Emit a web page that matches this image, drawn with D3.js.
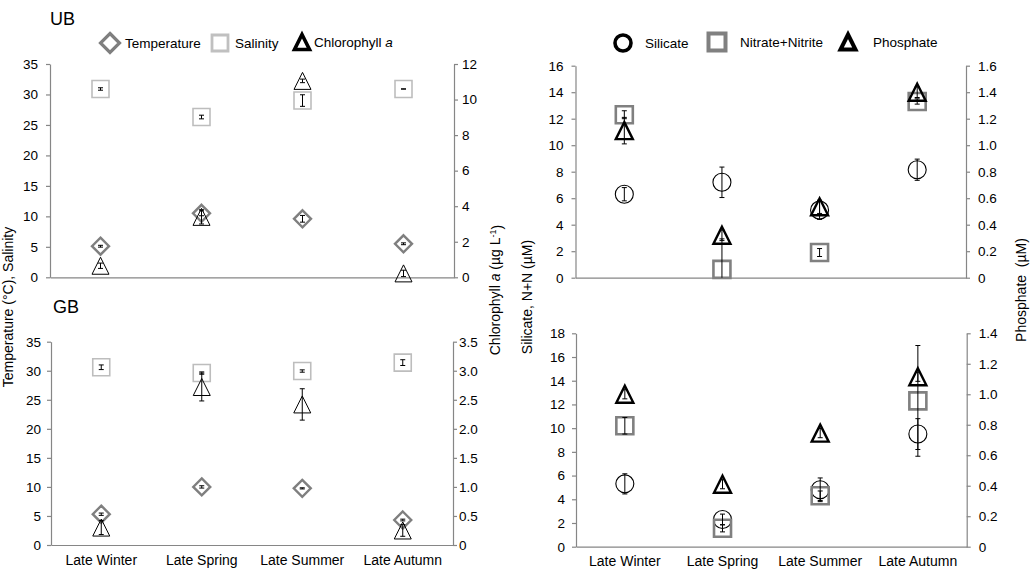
<!DOCTYPE html>
<html>
<head>
<meta charset="utf-8">
<script src="https://d3js.org/d3.v7.min.js"></script>
<style>
  html, body { margin: 0; padding: 0; background: #fff; }
  svg text { font-family: "Liberation Sans", Arial, sans-serif; fill: #000; }
  .axis path, .axis line { stroke: #868686; stroke-width: 1.2; }
  .axis text { font-size: 13.5px; }
</style>
</head>
<body>
<div id="chart"></div>
<script>
// categories (sampling seasons)
const categories = ["Late Winter", "Late Spring", "Late Summer", "Late Autumn"];

// UB: temperature, salinity (left axis) and chlorophyll a (right axis)
const ubTemp = [5.1, 10.5, 9.6, 5.5];
const ubTempErr = [0.15, 0.4, 0.55, 0.15];
const ubSal = [30.9, 26.3, 29.0, 30.9];
const ubSalErr = [0.2, 0.3, 0.95, 0.02];
const ubChl = [0.65, 3.4, 11.05, 0.22];
const ubChlErr = [0.15, 0.4, 0.1, 0.18];

// GB
const gbTemp = [5.3, 10.0, 9.75, 4.3];
const gbTempErr = [0.2, 0.2, 0.1, 0.15];
const gbSal = [30.6, 29.6, 29.95, 31.4];
const gbSalErr = [0.4, 0.2, 0.2, 0.5];
const gbChl = [0.3, 2.72, 2.42, 0.25];
const gbChlErr = [0.12, 0.24, 0.27, 0.1];

// UB nutrients: silicate, nitrate+nitrite (left), phosphate (right)
const ubSil = [6.3, 7.2, 5.1, 8.15];
const ubSilErr = [0.5, 1.15, 0.7, 0.8];
const ubNit = [12.3, 0.63, 1.9, 13.3];
const ubNitErr = [0.3, 2.3, 0.3, 0.2];
const ubPhos = [1.11, 0.32, 0.535, 1.4];
const ubPhosErr = [0.1, 0.04, 0.05, 0.04];

// GB nutrients
const gbSil = [5.3, 2.3, 4.8, 9.5];
const gbSilErr = [0.85, 0.45, 1.0, 1.3];
const gbNit = [10.2, 1.55, 4.3, 12.3];
const gbNitErr = [0.7, 0.3, 0.4, 4.67];
const gbPhos = [1.0, 0.41, 0.745, 1.115];
const gbPhosErr = [0.03, 0.03, 0.03, 0.03];

// tick labels
const physTicks = [0, 5, 10, 15, 20, 25, 30, 35];
const ubChlTicks = [0, 2, 4, 6, 8, 10, 12];
const gbChlTicks = [0, 0.5, 1.0, 1.5, 2.0, 2.5, 3.0, 3.5];
const ubNutTicks = [0, 2, 4, 6, 8, 10, 12, 14, 16];
const ubPhosTicks = [0, 0.2, 0.4, 0.6, 0.8, 1.0, 1.2, 1.4, 1.6];
const gbNutTicks = [0, 2, 4, 6, 8, 10, 12, 14, 16, 18];
const gbPhosTicks = [0, 0.2, 0.4, 0.6, 0.8, 1.0, 1.2, 1.4];

const W = 1033, H = 571;
const svg = d3.select("#chart").append("svg")
    .attr("width", W).attr("height", H);

const oneDec = d => d === 0 ? "0" : d.toFixed(1);

// marker styles
const styles = {
    temp: { shape: "diamond", stroke: "#7f7f7f", sw: 2.4, size: 17 },
    sal: { shape: "square", stroke: "#bdbdbd", sw: 1.6, size: 17 },
    chl: { shape: "triangle", stroke: "#000", sw: 1, size: 17 },
    sil: { shape: "circle", stroke: "#000", sw: 1.1, size: 18 },
    nit: { shape: "square", stroke: "#808080", sw: 2.6, size: 17 },
    phos: { shape: "triangle", stroke: "#000", sw: 2.4, size: 17 }
};

function drawMarker(g, shape, cx, cy, s, stroke, sw, fill) {
    const h = s / 2;
    if (shape === "circle") {
        g.append("circle").attr("cx", cx).attr("cy", cy).attr("r", h)
            .attr("fill", fill || "none").attr("stroke", stroke).attr("stroke-width", sw);
        return;
    }
    let p;
    if (shape === "diamond") p = `M${cx},${cy - h}L${cx + h},${cy}L${cx},${cy + h}L${cx - h},${cy}Z`;
    if (shape === "square") p = `M${cx - h},${cy - h}H${cx + h}V${cy + h}H${cx - h}Z`;
    if (shape === "triangle") p = `M${cx},${cy - h}L${cx + h},${cy + h}L${cx - h},${cy + h}Z`;
    g.append("path").attr("d", p).attr("fill", fill || "none")
        .attr("stroke", stroke).attr("stroke-width", sw).attr("stroke-linejoin", "miter");
}

function panel(cfg) {
    const g = svg.append("g");
    const x = d3.scaleBand().domain(categories).range([cfg.x0, cfg.x1]).padding(0);
    const yL = d3.scaleLinear().domain([0, cfg.leftMax]).range([cfg.yBot, cfg.yTop]);
    const yR = d3.scaleLinear().domain([0, cfg.rightMax]).range([cfg.yBot, cfg.yTop]);

    // bottom axis
    const xa = g.append("g").attr("class", "axis")
        .attr("transform", `translate(0,${cfg.yBot})`)
        .call(d3.axisBottom(x).tickSize(0).tickSizeOuter(0).tickPadding(cfg.catPad || 10));
    if (cfg.showCats) xa.selectAll("text").style("font-size", "14px");
    else xa.selectAll("text").remove();

    g.append("g").attr("class", "axis")
        .attr("transform", `translate(${cfg.x0},0)`)
        .call(d3.axisLeft(yL).tickValues(cfg.leftTicks).tickSize(4).tickSizeOuter(0)
            .tickPadding(cfg.lPad).tickFormat(cfg.leftFmt || d3.format("d")));

    g.append("g").attr("class", "axis")
        .attr("transform", `translate(${cfg.x1},0)`)
        .call(d3.axisRight(yR).tickValues(cfg.rightTicks).tickSize(4).tickSizeOuter(0)
            .tickPadding(cfg.rPad).tickFormat(cfg.rightFmt || d3.format("d")));

    const cx = c => x(c) + x.bandwidth() / 2;

    cfg.series.forEach(s => {
        const y = s.axis === "right" ? yR : yL;
        const st = styles[s.key];
        s.values.forEach((v, i) => {
            drawMarker(g, st.shape, cx(categories[i]), y(v), st.size, st.stroke, st.sw);
        });
    });

    // error bars on top of the markers
    cfg.series.forEach(s => {
        const y = s.axis === "right" ? yR : yL;
        const dom = y.domain();
        s.values.forEach((v, i) => {
            const e = s.errs[i];
            const lo = Math.max(dom[0], v - e), hi = Math.min(dom[1], v + e);
            const xc = cx(categories[i]);
            g.append("line").attr("x1", xc).attr("x2", xc)
                .attr("y1", y(lo)).attr("y2", y(hi))
                .attr("stroke", "#000").attr("stroke-width", 1);
            [v - e, v + e].forEach(t => {
                if (t < dom[0] || t > dom[1]) return;
                g.append("line").attr("x1", xc - 2.5).attr("x2", xc + 2.5)
                    .attr("y1", y(t)).attr("y2", y(t))
                    .attr("stroke", "#000").attr("stroke-width", 1);
            });
        });
    });
}

// top-left: UB physical
panel({
    x0: 50, x1: 454, yTop: 64, yBot: 277.3,
    leftMax: 35, rightMax: 12, leftTicks: physTicks, rightTicks: ubChlTicks,
    lPad: 8, rPad: 4, showCats: false,
    series: [
        { key: "temp", values: ubTemp, errs: ubTempErr, axis: "left" },
        { key: "sal", values: ubSal, errs: ubSalErr, axis: "left" },
        { key: "chl", values: ubChl, errs: ubChlErr, axis: "right" }
    ]
});

// bottom-left: GB physical
panel({
    x0: 51, x1: 453, yTop: 341.7, yBot: 545,
    leftMax: 35, rightMax: 3.5, leftTicks: physTicks, rightTicks: gbChlTicks,
    rightFmt: oneDec, lPad: 6, rPad: 2, showCats: true, catPad: 10,
    series: [
        { key: "temp", values: gbTemp, errs: gbTempErr, axis: "left" },
        { key: "sal", values: gbSal, errs: gbSalErr, axis: "left" },
        { key: "chl", values: gbChl, errs: gbChlErr, axis: "right" }
    ]
});

// top-right: UB nutrients
panel({
    x0: 575.5, x1: 966, yTop: 65.7, yBot: 277.7,
    leftMax: 16, rightMax: 1.6, leftTicks: ubNutTicks, rightTicks: ubPhosTicks,
    rightFmt: oneDec, lPad: 8, rPad: 8, showCats: false,
    series: [
        { key: "sil", values: ubSil, errs: ubSilErr, axis: "left" },
        { key: "nit", values: ubNit, errs: ubNitErr, axis: "left" },
        { key: "phos", values: ubPhos, errs: ubPhosErr, axis: "right" }
    ]
});

// bottom-right: GB nutrients
panel({
    x0: 576, x1: 966.7, yTop: 333.3, yBot: 546.7,
    leftMax: 18, rightMax: 1.4, leftTicks: gbNutTicks, rightTicks: gbPhosTicks,
    rightFmt: oneDec, lPad: 7, rPad: 8, showCats: true, catPad: 9,
    series: [
        { key: "sil", values: gbSil, errs: gbSilErr, axis: "left" },
        { key: "nit", values: gbNit, errs: gbNitErr, axis: "left" },
        { key: "phos", values: gbPhos, errs: gbPhosErr, axis: "right" }
    ]
});

// site labels
svg.append("text").attr("x", 50).attr("y", 25).style("font-size", "18px").text("UB");
svg.append("text").attr("x", 53).attr("y", 313).style("font-size", "18px").text("GB");

// axis titles
function vTitle(xc, yc, build) {
    const t = svg.append("text")
        .attr("transform", `translate(${xc},${yc}) rotate(-90)`)
        .attr("text-anchor", "middle").attr("dy", "0.35em")
        .style("font-size", "14px");
    build(t);
}
vTitle(8, 307, t => t.text("Temperature (°C), Salinity"));
vTitle(495, 290, t => {
    t.append("tspan").text("Chlorophyll ");
    t.append("tspan").style("font-style", "italic").text("a");
    t.append("tspan").text(" (µg L");
    t.append("tspan").attr("dy", "-0.45em").style("font-size", "9px").text("-1");
    t.append("tspan").attr("dy", "0.45em").text(")");
});
vTitle(527, 297, t => t.text("Silicate, N+N (µM)"));
vTitle(1021, 290, t => t.text("Phosphate  (µM)").attr("xml:space", "preserve"));

// legends
function legendItem(mx, my, shape, stroke, sw, size, tx, build) {
    const g = svg.append("g");
    drawMarker(g, shape, mx, my, size, stroke, sw);
    const t = svg.append("text").attr("x", tx).attr("y", my + 5).style("font-size", "13.5px");
    build(t);
}
legendItem(110, 43, "diamond", "#7f7f7f", 3.2, 19, 125, t => t.text("Temperature"));
legendItem(220, 43, "square", "#c0c0c0", 2.8, 16, 235, t => t.text("Salinity"));
legendItem(302, 42, "triangle", "#000", 3.6, 15, 314, t => {
    t.append("tspan").text("Chlorophyll ");
    t.append("tspan").style("font-style", "italic").text("a");
});
legendItem(623, 43, "circle", "#000", 3.6, 16, 645, t => t.text("Silicate"));
legendItem(717, 42, "square", "#808080", 4, 17, 740, t => t.text("Nitrate+Nitrite"));
legendItem(848, 42, "triangle", "#000", 4, 15, 873, t => t.text("Phosphate"));
</script>
</body>
</html>
